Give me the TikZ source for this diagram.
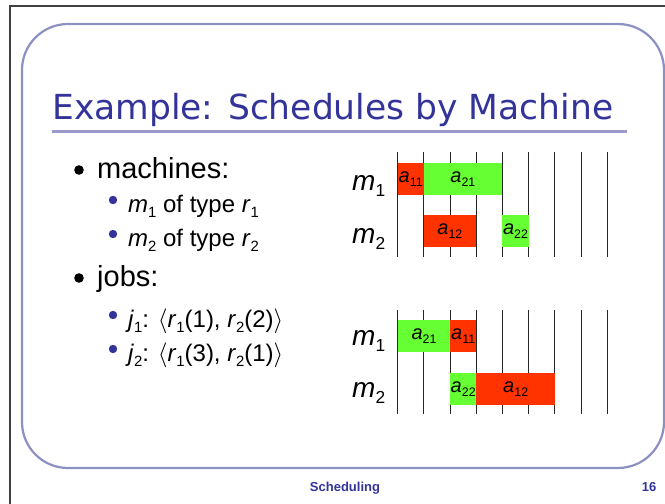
\documentclass[tikz,border=0pt]{standalone}
\usepackage{fontspec}
\setmainfont{Liberation Sans}
\newfontfamily\titlefont{DejaVu Sans}
\definecolor{sblue}{RGB}{51,51,153}
\definecolor{spanel}{RGB}{140,145,195}
\definecolor{srule}{RGB}{153,153,204}
\definecolor{jred}{RGB}{255,51,0}
\definecolor{jgreen}{RGB}{102,255,51}
\newcommand{\lo}[1]{\raisebox{-0.45ex}{\scalebox{0.62}{#1}}}

\begin{document}
\begin{tikzpicture}[x=1pt, y=-1pt,
    edge/.style={draw=black!75, line width=1.3pt},
    panel/.style={draw=spanel, line width=2.2pt, rounded corners=46pt},
    item/.style={anchor=base west, inner sep=0pt, font=\fontsize{29}{33}\selectfont},
    subitem/.style={anchor=base west, inner sep=0pt, font=\fontsize{24}{28}\selectfont},
    mlabel/.style={anchor=base west, inner sep=0pt, font=\fontsize{28}{32}\selectfont},
    gridline/.style={draw=black!85, line width=1.1pt},
    jobbar/.style={rectangle, anchor=north west, inner sep=0pt, minimum height=32pt, font=\fontsize{20}{24}\selectfont},
    redbar/.style={jobbar, fill=jred},
    greenbar/.style={jobbar, fill=jgreen},
    ]
\useasboundingbox (0,0) rectangle (665,504);

\draw[edge] (10,504) -- (10,6) -- (665,6);
\draw[panel] (22,24) rectangle (664,468);

\node[anchor=base west, inner sep=0pt, text=sblue, font=\titlefont\fontsize{34.5}{38}\selectfont] (title) at (52,119) {Example: Schedules by Machine};
\draw[srule, line width=3pt] (52,131) -- (627,131);

% bullet list
\fill (79,170) circle (4.8pt);
\node[item] (machines) at (97,178) {machines:};
\fill[sblue] (113,200) circle (4.2pt);
\node[subitem] (mone) at (128,212) {\textit{m}\lo{1} of type \textit{r}\lo{1}};
\fill[sblue] (113,234) circle (4.2pt);
\node[subitem] (mtwo) at (128,246) {\textit{m}\lo{2} of type \textit{r}\lo{2}};
\fill (79,278) circle (4.8pt);
\node[item] (jobs) at (97,286) {jobs:};
\fill[sblue] (113,315) circle (4.2pt);
\node[subitem] (jone) at (128,327) {\textit{j}\lo{1}: $\langle$\textit{r}\lo{1}(1), \textit{r}\lo{2}(2)$\rangle$};
\fill[sblue] (113,349) circle (4.2pt);
\node[subitem] (jtwo) at (128,361) {\textit{j}\lo{2}: $\langle$\textit{r}\lo{1}(3), \textit{r}\lo{2}(1)$\rangle$};

% first schedule
\foreach \k in {0,...,8}
    \draw[gridline] ({397.7+26.2*\k},152) -- ++(0,105);
\node[mlabel] (topmone) at (352,190) {\textit{m}\lo{1}};
\node[mlabel] (topmtwo) at (352,243) {\textit{m}\lo{2}};
\node[redbar, minimum width=25.6pt] (topaoneone) at (397.7,163) {\textit{a}\lo{11}};
\node[greenbar, minimum width=78.7pt] (topatwoone) at (423.3,163) {\textit{a}\lo{21}};
\node[redbar, minimum width=52.7pt] (topaonetwo) at (423.3,215) {\textit{a}\lo{12}};
\node[greenbar, minimum width=26.7pt] (topatwotwo) at (502,215) {\textit{a}\lo{22}};

% second schedule
\foreach \k in {0,...,8}
    \draw[gridline] ({397.7+26.2*\k},310) -- ++(0,104);
\node[mlabel] (botmone) at (352,345) {\textit{m}\lo{1}};
\node[mlabel] (botmtwo) at (352,397) {\textit{m}\lo{2}};
\node[greenbar, minimum width=52.3pt] (botatwoone) at (397.7,320) {\textit{a}\lo{21}};
\node[redbar, minimum width=26pt] (botaoneone) at (450,320) {\textit{a}\lo{11}};
\node[greenbar, minimum width=26pt] (botatwotwo) at (450,373) {\textit{a}\lo{22}};
\node[redbar, minimum width=79pt] (botaonetwo) at (476,373) {\textit{a}\lo{12}};

\node[anchor=base, inner sep=0pt, text=sblue, font=\bfseries\fontsize{13}{15}\selectfont] (footer) at (345,491) {Scheduling};
\node[anchor=base, inner sep=0pt, text=sblue, font=\bfseries\fontsize{13}{15}\selectfont] (pageno) at (649,491) {16};
\end{tikzpicture}
\end{document}
